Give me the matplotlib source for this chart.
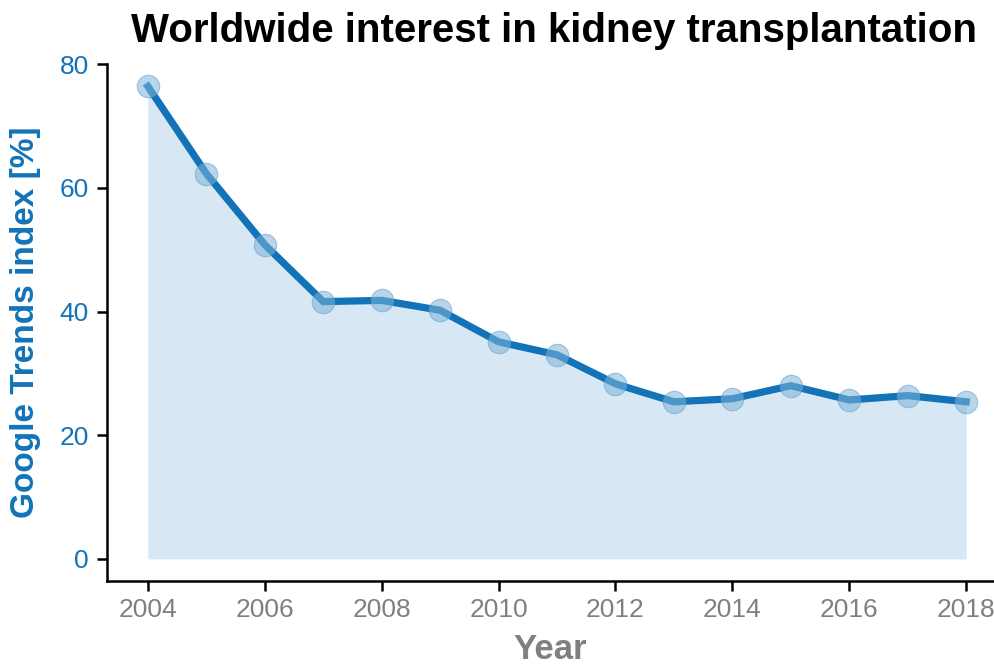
import numpy as np
import matplotlib
matplotlib.use('Agg')
import matplotlib.pyplot as plt

plt.rcParams['font.family'] = ['Liberation Sans', 'DejaVu Sans']

years = [2004, 2005, 2006, 2007, 2008, 2009, 2010, 2011, 2012, 2013, 2014, 2015, 2016, 2017, 2018]
index = [76.4, 62.3, 50.8, 41.6, 41.8, 40.2, 35.1, 33.0, 28.3, 25.4, 25.9, 28.0, 25.7, 26.4, 25.4]

blue = '#1273b8'
grey = '#808080'

fig = plt.figure(figsize=(9.95, 6.68), dpi=100)
ax = fig.add_axes([0.1075, 0.13, 0.89, 0.774])

ax.fill_between(years, 0, index, color='#d7e7f3', lw=0)
ax.plot(years, index, color=blue, lw=5.2, solid_joinstyle='miter', zorder=3)
ax.scatter(years, index, s=260, color='#7fb3d9', alpha=0.55, edgecolors='#5f9fcf', lw=0.8, zorder=4)

ax.set_xlim(2003.3, 2018.45)
ax.set_ylim(-3.6, 80)
ax.set_xticks(range(2004, 2019, 2))
ax.set_yticks([0, 20, 40, 60, 80])

for s in ['top', 'right']:
    ax.spines[s].set_visible(False)
for s in ['left', 'bottom']:
    ax.spines[s].set_linewidth(1.8)
ax.tick_params(axis='both', width=1.8, length=7, labelsize=19)
ax.tick_params(axis='y', labelcolor=blue, pad=6)
ax.tick_params(axis='x', labelcolor=grey, pad=5)

ax.set_ylabel('Google Trends index [%]', color=blue, fontsize=24, fontweight='bold', labelpad=13)
ax.set_xlabel('Year', color=grey, fontsize=25, fontweight='bold', labelpad=8)
ax.set_title('Worldwide interest in kidney transplantation', fontsize=29, fontweight='bold', pad=16, x=0.505)

fig.savefig('out.png', dpi=100)
